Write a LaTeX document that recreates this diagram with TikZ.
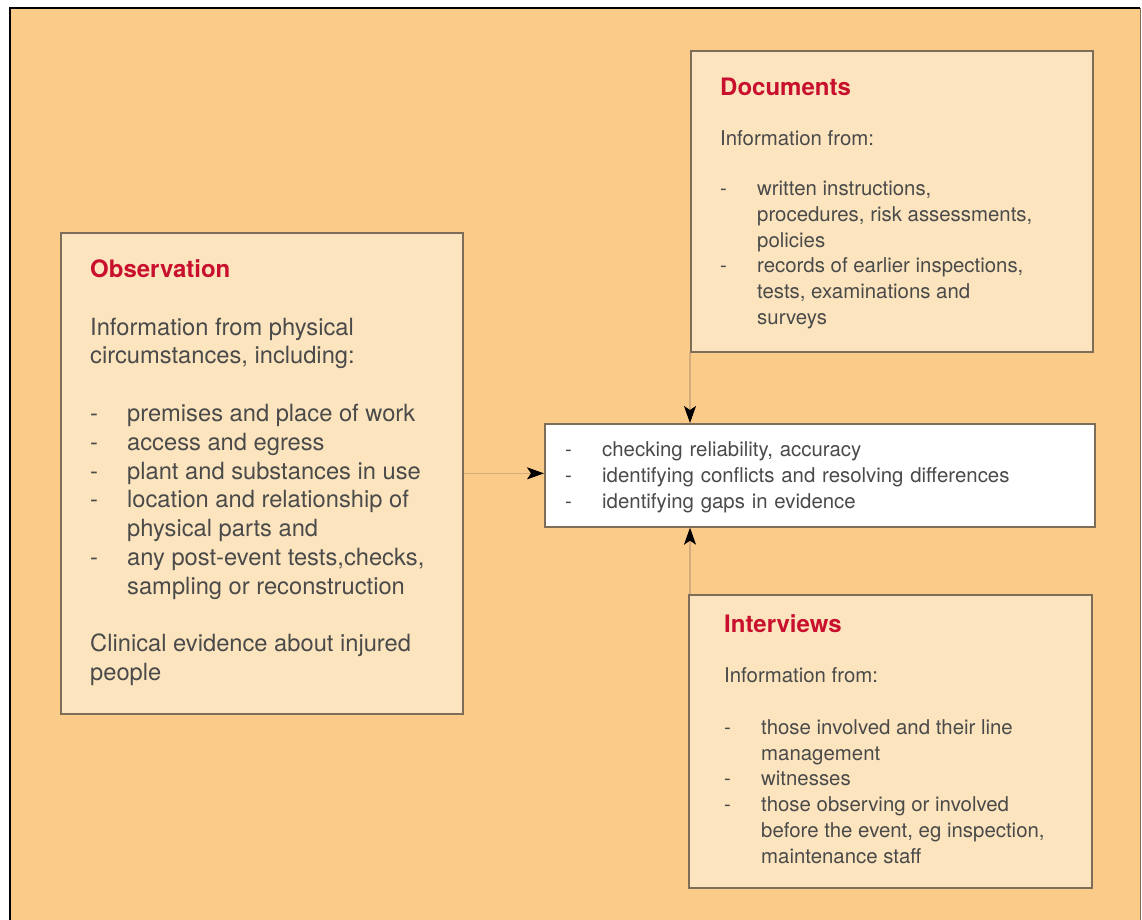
\documentclass[tikz,border=0pt]{standalone}
\usepackage{fontspec}
\setmainfont{TeX Gyre Heros}
\usepackage{tikz}
\usetikzlibrary{arrows.meta}

\definecolor{bgorange}{HTML}{FBCB89}
\definecolor{boxfill}{HTML}{FCE5BE}
\definecolor{boxline}{HTML}{7D6D59}
\definecolor{linkline}{HTML}{D2AC7C}
\definecolor{bodytext}{HTML}{4A4A4A}
\definecolor{headred}{HTML}{C8102E}

\begin{document}
\begin{tikzpicture}[x={(1pt,0pt)},y={(0pt,-1pt)},>={Stealth[length=17pt,width=12pt,inset=4pt,color=black]}]
 \tikzstyle{infobox} = [draw=boxline,line width=1.7pt,fill=boxfill,inner sep=0,anchor=north west]
 \tikzstyle{heading} = [anchor=north west,inner sep=0,text=headred,font=\fontsize{24}{28}\selectfont\bfseries]
 \tikzstyle{bodytxt} = [anchor=north west,inner sep=0,text=bodytext,align=left,font=\fontsize{20.4}{25.8}\selectfont]
 \tikzstyle{bigtxt} = [anchor=north west,inner sep=0,text=bodytext,align=left,font=\fontsize{23.7}{28.8}\selectfont]
 \tikzstyle{link} = [->,draw=linkline,line width=1.2pt]
 \newcommand{\itm}{\makebox[37pt][l]{-}}
 \newcommand{\cnt}{\hspace*{37pt}}

 \useasboundingbox (0,0) rectangle (1142,920);
 \fill[white] (0,0) rectangle (1142,920);
 \begin{scope}
 \clip (0,0) rectangle (1142,920);
% Outer frame
 \fill[bgorange] (10,8) rectangle (1140,930);
 \draw[black,line width=2pt] (10,930) -- (10,8) -- (1140,8);
 \draw[boxline,line width=1pt] (1140,8) -- (1140,930);
 \end{scope}

% Boxes
 \node[infobox,minimum width=402,minimum height=301] (docs) at (690,50) {};
 \node[infobox,minimum width=402,minimum height=481] (obs) at (60,232) {};
 \node[infobox,fill=white,minimum width=550,minimum height=103] (check) at (544,423) {};
 \node[infobox,minimum width=403,minimum height=293] (ivw) at (688,594) {};

% Texts
 \node[heading] (docshead) at (720,77.5) {Documents};
 \node[bodytxt] (docsbody) at (720,130.5) {Information from:\\[24pt]
  \itm written instructions,\\
  \cnt procedures, risk assessments,\\
  \cnt policies\\
  \itm records of earlier inspections,\\
  \cnt tests, examinations and\\
  \cnt surveys};

 \node[heading] (obshead) at (90,259.5) {Observation};
 \node[bigtxt] (obsbody) at (90,317.5) {Information from physical\\
  circumstances, including:\\[28.8pt]
  \itm premises and place of work\\
  \itm access and egress\\
  \itm plant and substances in use\\
  \itm location and relationship of\\
  \cnt physical parts and\\
  \itm any post-event tests,checks,\\
  \cnt sampling or reconstruction\\[28.8pt]
  Clinical evidence about injured\\
  people};

 \node[bodytxt,text width=500] (checkbody) at (565,441.5) {%
  \itm checking reliability, accuracy\\
  \itm identifying conflicts and resolving differences\\
  \itm identifying gaps in evidence};

 \node[heading] (ivwhead) at (724,614.5) {Interviews};
 \node[bodytxt] (ivwbody) at (724,667.5) {Information from:\\[25.8pt]
  \itm those involved and their line\\
  \cnt management\\
  \itm witnesses\\
  \itm those observing or involved\\
  \cnt before the event, eg inspection,\\
  \cnt maintenance staff};

% Connectors
 \draw[link] (obs.east) -- (obs.east -| check.west);
 \draw[link] (docs.south west) -- (docs.south west |- check.north);
 \draw[link] (ivw.north -| docs.south west) -- (check.south -| docs.south west);

\end{tikzpicture}
\end{document}
